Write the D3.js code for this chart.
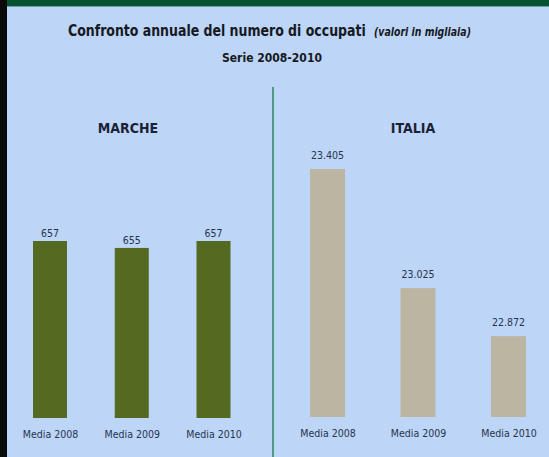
<!DOCTYPE html>
<html>
<head>
<meta charset="utf-8">
<script src="https://cdn.jsdelivr.net/npm/d3@7"></script>
<style>
  html, body { margin: 0; padding: 0; background: #bdd5f7; }
  svg { display: block; }
</style>
</head>
<body>
<div id="chart"></div>
<script>
const width = 549;
const height = 457;

// data (valori in migliaia)
const categories = ["Media 2008", "Media 2009", "Media 2010"];
const marcheValues = [657, 655, 657];
const italiaValues = [23405, 23025, 22872];
const marcheAxisMin = 606;
const italiaAxisMin = 22614;

const it = d3.formatLocale({ decimal: ",", thousands: ".", grouping: [3], currency: ["€", ""] });
const fmt = it.format(",d");

const font = "'Liberation Sans Narrow', 'Arial Narrow', 'DejaVu Sans Condensed', sans-serif";

const svg = d3.select("#chart")
  .append("svg")
  .attr("width", width)
  .attr("height", height);

// background
svg.append("rect").attr("width", width).attr("height", height).attr("fill", "#bdd5f7");
svg.append("rect").attr("width", width).attr("height", 6).attr("fill", "#075230");
svg.append("rect").attr("y", 6).attr("width", width).attr("height", 1).attr("fill", "#6c9fa0");
svg.append("rect").attr("width", 7).attr("height", height).attr("fill", "#0a0a0a");

// squeeze a text horizontally so it fits a target width (narrow font look)
function squeezed(x, y, w, anchor, size, style, str) {
  const t = svg.append("text")
    .attr("font-family", font)
    .attr("font-size", size)
    .attr("font-weight", "bold")
    .attr("font-style", style)
    .attr("fill", "#161922")
    .text(str);
  const k = w / t.node().getComputedTextLength();
  const x0 = anchor === "middle" ? x - w / 2 : x;
  t.attr("transform", `translate(${x0},${y}) scale(${k},1)`);
  return t;
}

// title
squeezed(68, 36, 298, "start", 16, "normal", "Confronto annuale del numero di occupati");
squeezed(374, 36, 97, "start", 12, "italic", "(valori in migliaia)");
squeezed(272, 62, 100, "middle", 13, "normal", "Serie 2008-2010");

// divider
svg.append("line")
  .attr("x1", 273).attr("x2", 273)
  .attr("y1", 87).attr("y2", height)
  .attr("stroke", "#4e9a82")
  .attr("stroke-width", 2);

function panel(name, titleX, values, axisMin, xRange, yRange, barW, color, labelGap) {
  const x = d3.scalePoint().domain(categories).range(xRange);
  const y = d3.scaleLinear().domain([axisMin, d3.max(values)]).range(yRange);
  const g = svg.append("g");

  g.append("text")
    .attr("x", titleX).attr("y", 133)
    .attr("text-anchor", "middle")
    .attr("font-family", font)
    .attr("font-size", 14)
    .attr("font-weight", "bold")
    .attr("fill", "#1a2236")
    .text(name);

  g.selectAll(".bar")
    .data(values)
    .enter().append("rect")
    .attr("class", "bar")
    .attr("x", (d, i) => x(categories[i]) - barW / 2)
    .attr("y", d => y(d))
    .attr("width", barW)
    .attr("height", d => y(axisMin) - y(d))
    .attr("fill", color);

  g.selectAll(".val")
    .data(values)
    .enter().append("text")
    .attr("class", "val")
    .attr("x", (d, i) => x(categories[i]))
    .attr("y", d => y(d) - labelGap)
    .attr("text-anchor", "middle")
    .attr("font-family", font)
    .attr("font-size", 10.5)
    .attr("fill", "#26344f")
    .text(d => fmt(d));

  const axis = d3.axisBottom(x).tickSize(0).tickPadding(0);
  g.append("g")
    .attr("transform", `translate(0,${y(axisMin) + 20})`)
    .call(axis)
    .call(a => a.select(".domain").remove())
    .selectAll("text")
    .attr("dy", "0")
    .attr("font-family", font)
    .attr("font-size", 10.5)
    .attr("fill", "#26344f");
}

panel("MARCHE", 128, marcheValues, marcheAxisMin, [50, 213.5], [418, 241], 34, "#556a21", 4);
panel("ITALIA", 413, italiaValues, italiaAxisMin, [327.5, 508.5], [417, 169], 35, "#bcb5a2", 10);
</script>
</body>
</html>
